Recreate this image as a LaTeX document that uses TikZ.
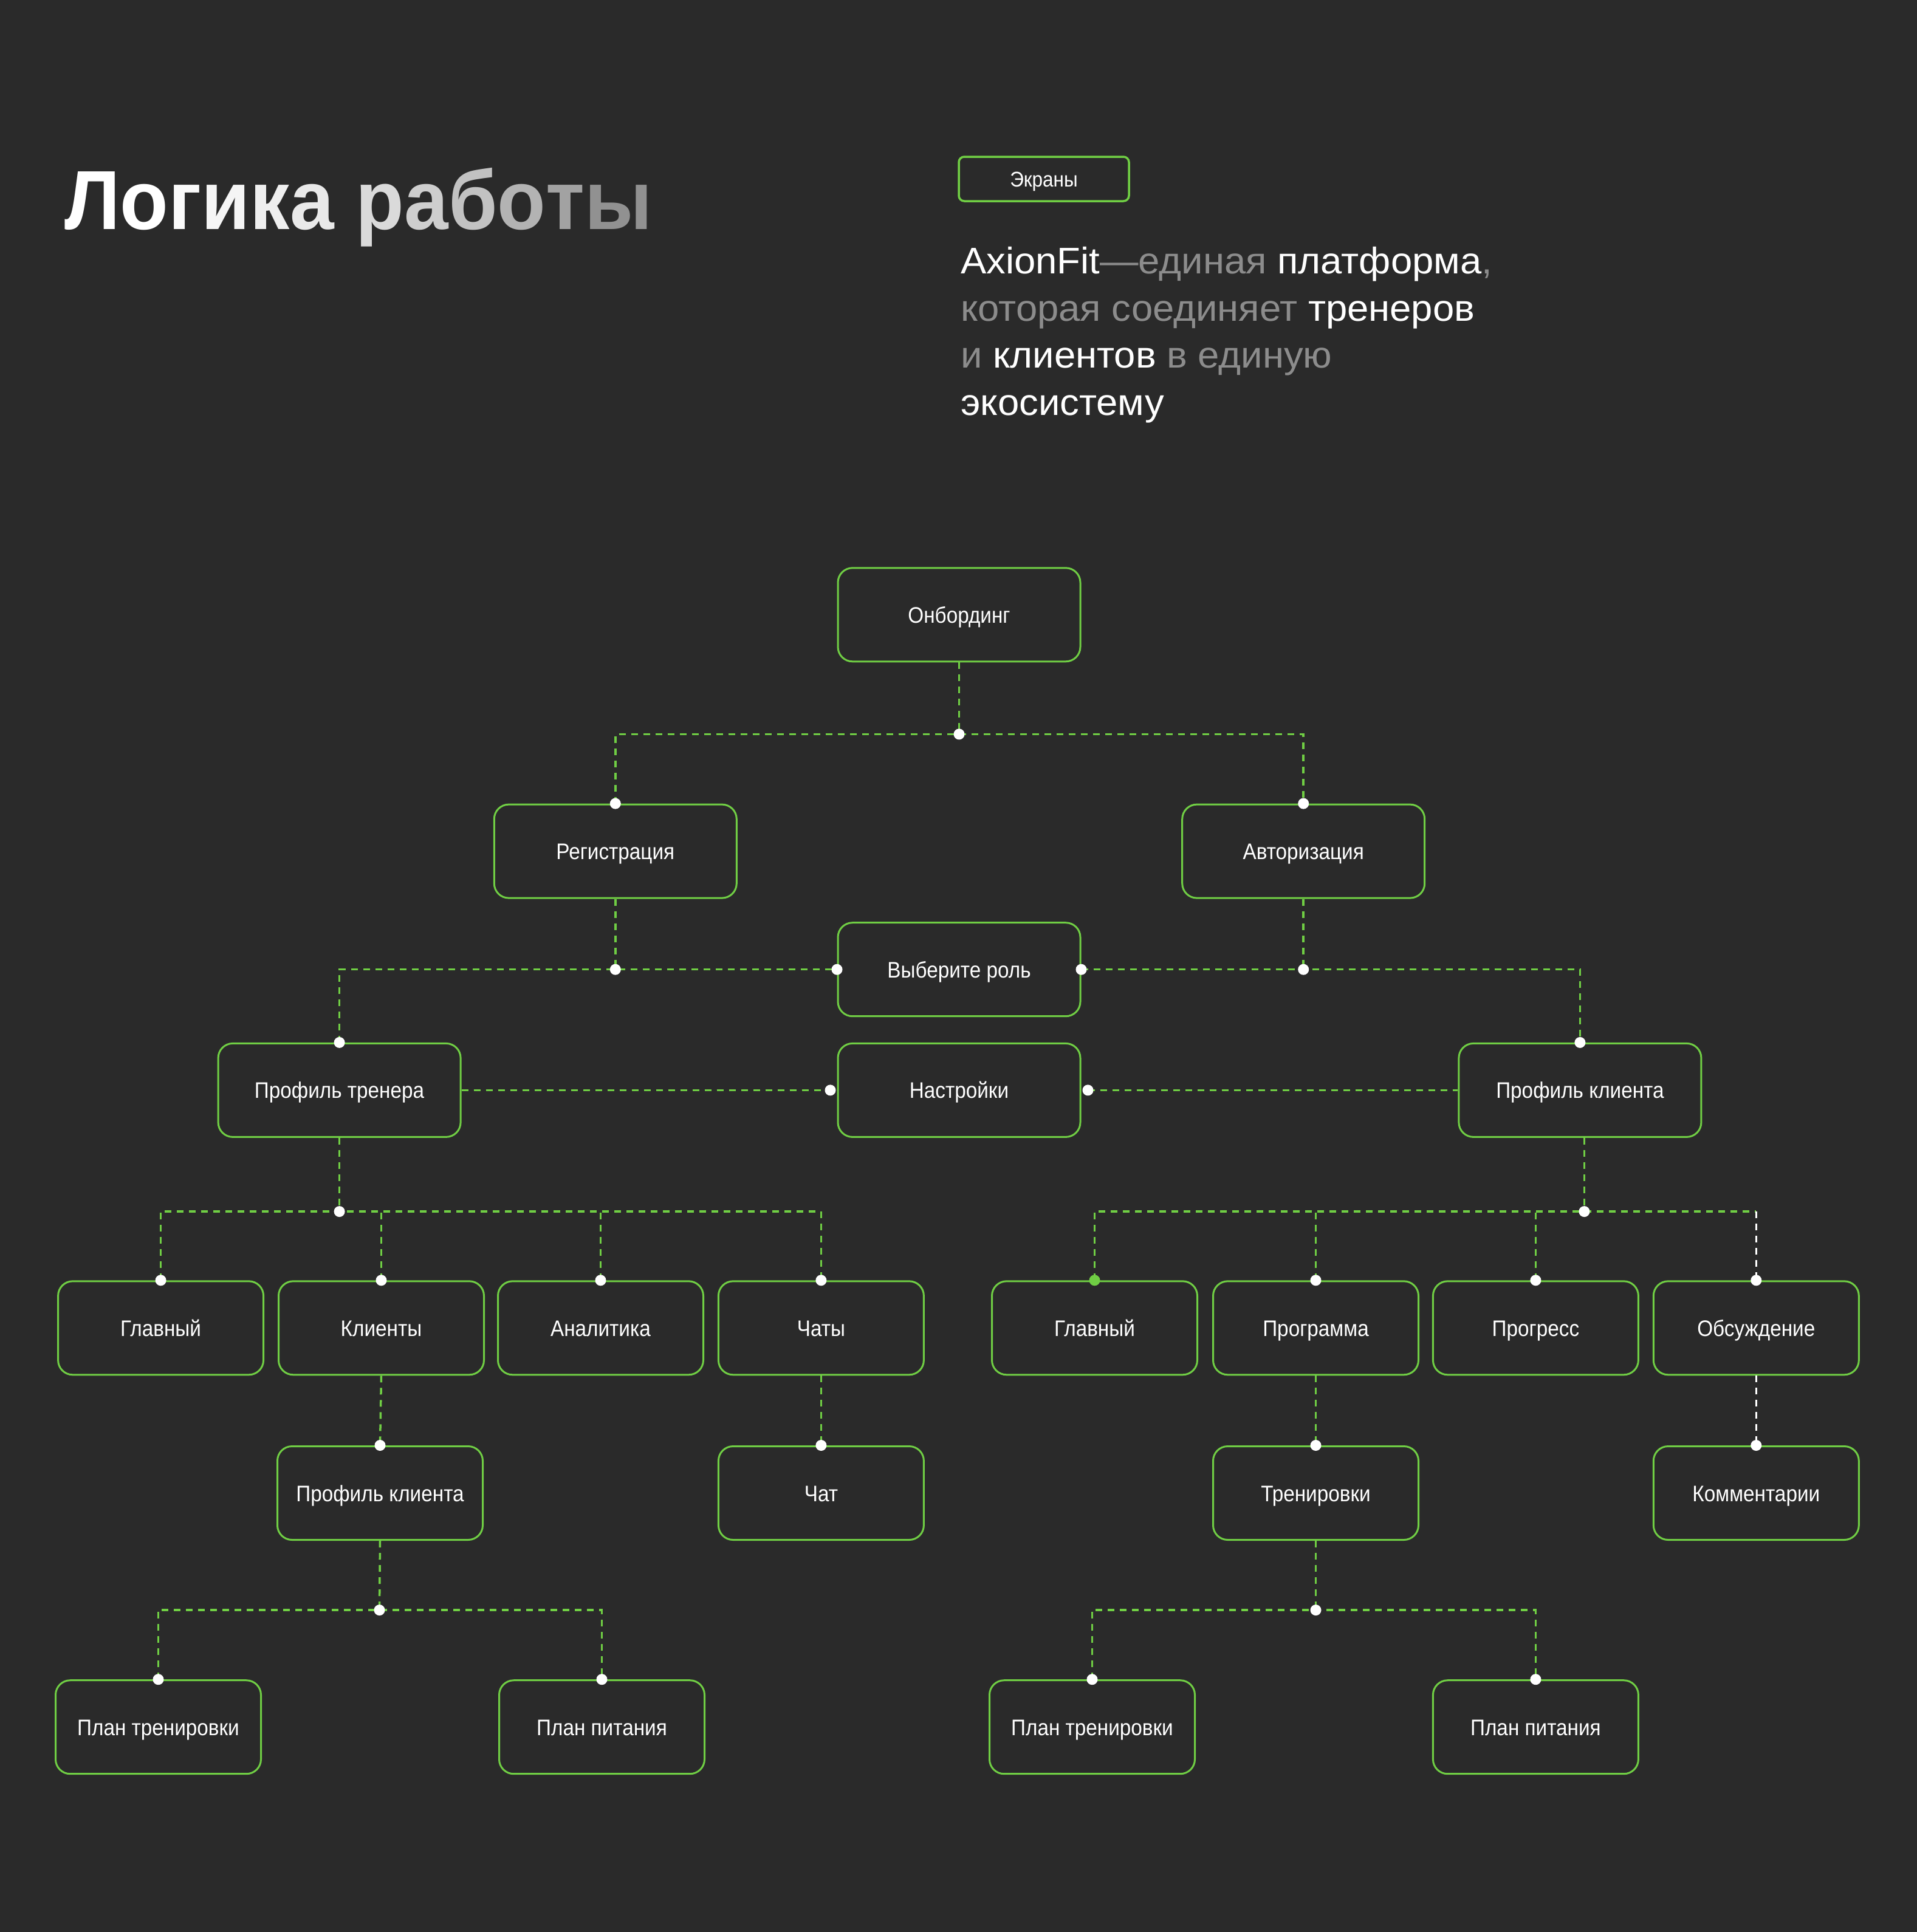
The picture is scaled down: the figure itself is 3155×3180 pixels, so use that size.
\documentclass[tikz,border=0pt]{standalone}
\usepackage{fontspec}
\setmainfont{Liberation Sans}
\newfontfamily\nodefont{Liberation Sans}[FakeStretch=0.9]
\newfontfamily\titlefont{Liberation Sans}[FakeStretch=0.945]
\newfontfamily\subfont{Liberation Sans}[FakeStretch=1.04]
\definecolor{bg}{HTML}{2A2A2A}
\definecolor{grn}{HTML}{70CE44}
\definecolor{gry}{HTML}{8C8C8C}
\definecolor{tgry}{HTML}{858585}
\newcommand{\tl}[2]{\textcolor{white!#1!tgry}{#2}}
\begin{document}
\begin{tikzpicture}[x=1pt,y=-1pt,
  box/.style={draw=grn, line width=3pt, rounded corners=24pt, minimum width=399pt, minimum height=154pt, inner sep=0pt, text height=27pt, text depth=0pt, text=white, font=\nodefont\fontsize{37}{42}\selectfont},
  sbox/.style={box, minimum width=338pt},
  link/.style={draw=grn, line width=3.5pt, dash pattern=on 11pt off 9pt},
  wlink/.style={link, draw=white},
  dot/.style={circle, fill=white, inner sep=0pt, minimum size=18pt},
  gdot/.style={dot, fill=grn},
  sub/.style={anchor=base west, inner sep=0pt, text=white, font=\subfont\fontsize{61}{70}\selectfont}
]
\fill[bg] (0,0) rectangle (3155,3180);
\useasboundingbox (0,0) rectangle (3155,3180);

% title
\node[anchor=base west, inner sep=0pt] (title) at (106,377)
  {\titlefont\bfseries\fontsize{138}{150}\selectfont\tl{100}{Л}\tl{100}{о}\tl{96}{г}\tl{92}{и}\tl{87}{к}\tl{82}{а} \tl{70}{р}\tl{60}{а}\tl{50}{б}\tl{38}{о}\tl{24}{т}\tl{10}{ы}};

% screens label
\node[draw=grn, line width=3.5pt, rounded corners=9pt, minimum width=280pt, minimum height=73pt, inner sep=0pt, text height=25pt, text depth=0pt, text=white, font=\nodefont\fontsize{35}{40}\selectfont] (screens) at (1718,294.5) {Экраны};

% subtitle
\node[sub] (s1) at (1581,450) {AxionFit\textcolor{gry}{—единая} платформа\textcolor{gry}{,}};
\node[sub] (s2) at (1581,528) {\textcolor{gry}{которая соединяет} тренеров};
\node[sub] (s3) at (1581,605) {\textcolor{gry}{и} клиентов \textcolor{gry}{в единую}};
\node[sub] (s4) at (1581,683) {экосистему};

% nodes
\node[box] (onb) at (1578.5,1011.8) {Онбординг};
\node[box] (reg) at (1012.8,1401.1) {Регистрация};
\node[box] (auth) at (2145.2,1401.1) {Авторизация};
\node[box] (role) at (1578.5,1595.7) {Выберите роль};
\node[box] (ptr) at (558.6,1794.4) {Профиль тренера};
\node[box] (sett) at (1578.5,1794.4) {Настройки};
\node[box] (pcl) at (2600.4,1794.4) {Профиль клиента};

\node[sbox] (L1) at (264.6,2185.8) {Главный};
\node[sbox] (L2) at (627.5,2185.8) {Клиенты};
\node[sbox] (L3) at (988.5,2185.8) {Аналитика};
\node[sbox] (L4) at (1351.4,2185.8) {Чаты};
\node[sbox] (R1) at (1801.5,2185.8) {Главный};
\node[sbox] (R2) at (2165.5,2185.8) {Программа};
\node[sbox] (R3) at (2527.4,2185.8) {Прогресс};
\node[sbox] (R4) at (2890.3,2185.8) {Обсуждение};

\node[sbox] (L2b) at (625.5,2457.5) {Профиль клиента};
\node[sbox] (L4b) at (1351.4,2457.5) {Чат};
\node[sbox] (R2b) at (2165.5,2457.5) {Тренировки};
\node[sbox] (R4b) at (2890.3,2457.5) {Комментарии};

\node[sbox] (P1) at (260.5,2842.7) {План тренировки};
\node[sbox] (P2) at (990.5,2842.7) {План питания};
\node[sbox] (P3) at (1797.5,2842.7) {План тренировки};
\node[sbox] (P4) at (2527.4,2842.7) {План питания};

% level 1
\coordinate (j1) at (1578.5,1208.4);
\draw[link] (onb.south) -- (j1);
\draw[link] (reg.north) -- (reg.north |- j1) -- (auth.north |- j1) -- (auth.north);

% level 2
\coordinate (j2L) at (reg.south |- role.west);
\coordinate (j2R) at (auth.south |- role.east);
\draw[link] (reg.south) -- (j2L);
\draw[link] (auth.south) -- (j2R);
\draw[link] (ptr.north) -- (ptr.north |- role.west) -- (role.west);
\draw[link] (role.east) -- (pcl.north |- role.east) -- (pcl.north);

% level 3
\coordinate (sL) at ([xshift=-11pt]sett.west);
\coordinate (sR) at ([xshift=11pt]sett.east);
\draw[link] (ptr.east) -- (sL);
\draw[link] (sR) -- (pcl.west);

% level 4 left
\coordinate (j4L) at (558.6,1994.1);
\draw[link] (ptr.south) -- (j4L);
\draw[link] (L1.north) -- (L1.north |- j4L) -- (L4.north |- j4L) -- (L4.north);
\draw[link] (L2.north) -- (L2.north |- j4L);
\draw[link] (L3.north) -- (L3.north |- j4L);

% level 4 right
\coordinate (pcls) at ([xshift=7pt]pcl.south);
\coordinate (j4R) at (pcls |- j4L);
\draw[link] (pcls) -- (j4R);
\draw[link] (R1.north) -- (R1.north |- j4R) -- (R4.north |- j4R);
\draw[wlink] (R4.north |- j4R) -- (R4.north);
\draw[link] (R2.north) -- (R2.north |- j4R);
\draw[link] (R3.north) -- (R3.north |- j4R);

% level 5
\draw[link] (L2.south) -- (L2b.north);
\draw[link] (L4.south) -- (L4b.north);
\draw[link] (R2.south) -- (R2b.north);
\draw[wlink] (R4.south) -- (R4b.north);

% level 6
\coordinate (j6L) at (624.5,2650.1);
\coordinate (j6R) at (2165.5,2650.1);
\draw[link] (L2b.south) -- (j6L);
\draw[link] (P1.north) -- (P1.north |- j6L) -- (P2.north |- j6L) -- (P2.north);
\draw[link] (R2b.south) -- (j6R);
\draw[link] (P3.north) -- (P3.north |- j6R) -- (P4.north |- j6R) -- (P4.north);

% dots
\foreach \p in {j1, reg.north, auth.north, j2L, j2R, role.west, role.east, ptr.north, pcl.north, sL, sR, j4L, j4R, L1.north, L2.north, L3.north, L4.north, R2.north, R3.north, R4.north, L2b.north, L4b.north, R2b.north, R4b.north, j6L, j6R, P1.north, P2.north, P3.north, P4.north}
  \node[dot] at (\p) {};
\node[gdot] at (R1.north) {};
\end{tikzpicture}
\end{document}
